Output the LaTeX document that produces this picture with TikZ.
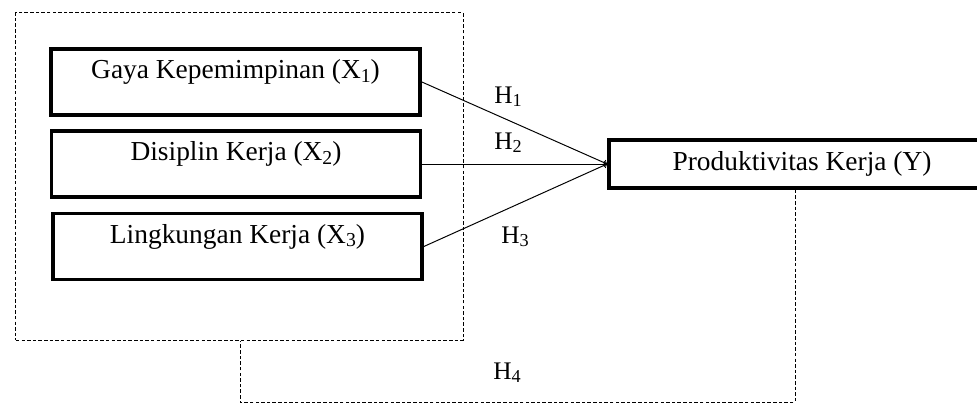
\documentclass[tikz,border=0pt]{standalone}
\usepackage{fontspec}
\setmainfont{Liberation Serif}
\newcommand{\lowsub}[1]{\raisebox{-0.12em}{\scalebox{0.72}{#1}}}

\begin{document}
\begin{tikzpicture}[x=0.025cm,y=-0.025cm,
  varbox/.style={draw,line width=2.6pt,minimum width=9.225cm,minimum height=1.65cm,
    inner ysep=6pt,text height=15.3pt,text depth=19.7pt,font=\fontsize{19.5}{22}\selectfont},
  ybox/.style={draw,line width=2.6pt,minimum width=9.65cm,minimum height=1.2cm,
    font=\fontsize{19.5}{22}\selectfont},
  groupbox/.style={draw,line width=0.7pt,dash pattern=on 2.5pt off 1.5pt,
    minimum width=11.175cm,minimum height=8.175cm},
  hyp/.style={font=\fontsize{18}{20}\selectfont}]
\useasboundingbox (0,0) rectangle (977,405);
\node[groupbox] (GROUP) at (239.5,176.5) {};
\node[varbox] (GAYA) at (235.5,82) {Gaya Kepemimpinan (X\lowsub{1})};
\node[varbox] (DIS) at (236,164) {Disiplin Kerja (X\lowsub{2})};
\node[varbox] (LING) at (237.5,246.5) {Lingkungan Kerja (X\lowsub{3})};
\node[ybox] (PROD) at (802,164) {Produktivitas Kerja (Y)};
\node[hyp] (H1) at (508,97) {H\lowsub{1}};
\node[hyp] (H2) at (508,143) {H\lowsub{2}};
\node[hyp] (H3) at (515,237) {H\lowsub{3}};
\node[hyp] (H4) at (507,373) {H\lowsub{4}};
\coordinate (BR) at (795,402);
\coordinate (BL) at (240,402);
\draw [->,line width=0.7pt] (GAYA.east) to (PROD.west);
\draw [->,line width=0.7pt] (DIS.east) to (PROD.west);
\draw [->,line width=0.7pt] (LING.east) to (PROD.west);
% dashed link for H4
\draw [line width=0.7pt,dash pattern=on 2.5pt off 1.5pt] (PROD.south -| BR) -- (BR) -- (BL) -- (GROUP.south -| BL);
\end{tikzpicture}
\end{document}
